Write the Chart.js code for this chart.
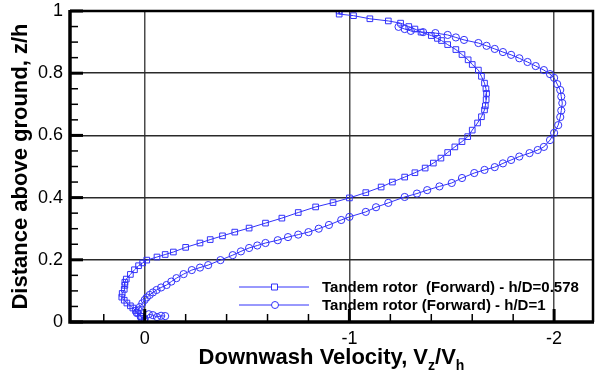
<!DOCTYPE html>
<html>
<head>
<meta charset="utf-8">
<script src="https://cdn.jsdelivr.net/npm/chart.js@4/dist/chart.umd.min.js"></script>
<style>
  html, body { margin: 0; padding: 0; background: #fff; }
  #contenedor { width: 598px; height: 375px; }
</style>
</head>
<body>
<div id="contenedor"><canvas id="miGrafica" width="598" height="375"></canvas></div>
<script>
// Tandem rotor (Forward) - h/D=0.578  (squares)
const vel1 = [-0.95, -0.95, -1.02, -1.10, -1.19, -1.25, -1.29, -1.32, -1.35, -1.40, -1.43, -1.45, -1.48, -1.52,
  -1.55, -1.58, -1.60, -1.63, -1.645, -1.66, -1.667, -1.67, -1.668, -1.664, -1.66, -1.645, -1.626, -1.60,
  -1.578, -1.55, -1.515, -1.48, -1.447, -1.41, -1.37, -1.32, -1.27, -1.21, -1.155, -1.08, -1.00, -0.92,
  -0.835, -0.75, -0.67, -0.59, -0.51, -0.44, -0.38, -0.32, -0.27, -0.20, -0.14, -0.10, -0.06, -0.01,
  0.01, 0.03, 0.05, 0.07, 0.09, 0.097, 0.097, 0.10, 0.11, 0.112, 0.10, 0.087, 0.07, 0.058, 0.045, 0.034,
  0.02, 0.015, 0.00];
const z1 = [1.00, 0.99, 0.985, 0.975, 0.968, 0.961, 0.950, 0.942, 0.932, 0.921, 0.912, 0.905, 0.892, 0.876,
  0.860, 0.843, 0.828, 0.810, 0.790, 0.768, 0.750, 0.735, 0.715, 0.695, 0.682, 0.660, 0.640, 0.617,
  0.596, 0.580, 0.563, 0.545, 0.527, 0.511, 0.495, 0.480, 0.466, 0.450, 0.434, 0.416, 0.399, 0.384,
  0.370, 0.352, 0.334, 0.318, 0.302, 0.289, 0.277, 0.265, 0.254, 0.240, 0.225, 0.217, 0.209, 0.199,
  0.190, 0.181, 0.168, 0.153, 0.138, 0.128, 0.118, 0.105, 0.092, 0.080, 0.070, 0.061, 0.052, 0.045, 0.037, 0.029,
  0.018, 0.012, 0.003];

// Tandem rotor (Forward) - h/D=1  (circles)
const vel2 = [-1.24, -1.27, -1.30, -1.36, -1.42, -1.48, -1.52, -1.56, -1.63, -1.67, -1.71, -1.75, -1.79, -1.83,
  -1.87, -1.91, -1.95, -1.98, -2.00, -2.015, -2.03, -2.035, -2.04, -2.035, -2.03, -2.02, -2.00, -1.98,
  -1.95, -1.92, -1.88, -1.83, -1.79, -1.75, -1.71, -1.66, -1.61, -1.55, -1.50, -1.44, -1.38, -1.33,
  -1.27, -1.19, -1.13, -1.08, -1.00, -0.96, -0.90, -0.85, -0.80, -0.75, -0.70, -0.65, -0.59, -0.55,
  -0.51, -0.47, -0.43, -0.37, -0.31, -0.27, -0.23, -0.19, -0.155, -0.13, -0.107, -0.08, -0.058, -0.04,
  -0.024, -0.01, 0.00, 0.012, 0.024, 0.03, 0.039, 0.02, 0.00, -0.02, -0.04, -0.06, -0.08, -0.10];
const z2 = [0.949, 0.942, 0.936, 0.932, 0.929, 0.923, 0.915, 0.907, 0.897, 0.888, 0.878, 0.868, 0.859, 0.848,
  0.836, 0.823, 0.810, 0.797, 0.785, 0.765, 0.746, 0.725, 0.704, 0.680, 0.659, 0.633, 0.608, 0.585,
  0.563, 0.553, 0.543, 0.532, 0.521, 0.510, 0.498, 0.489, 0.479, 0.463, 0.447, 0.436, 0.424, 0.413,
  0.402, 0.383, 0.369, 0.354, 0.338, 0.328, 0.312, 0.300, 0.289, 0.281, 0.273, 0.263, 0.254, 0.246,
  0.238, 0.227, 0.215, 0.199, 0.183, 0.175, 0.167, 0.154, 0.141, 0.130, 0.119, 0.111, 0.103, 0.095,
  0.087, 0.079, 0.071, 0.060, 0.048, 0.038, 0.029, 0.018, 0.010, 0.025, 0.022, 0.016, 0.020, 0.019];

const nombres = ["Tandem rotor  (Forward) - h/D=0.578", "Tandem rotor (Forward) - h/D=1"];
const xTicks = [0.2, 0, -0.2, -0.4, -0.6, -0.8, -1, -1.2, -1.4, -1.6, -1.8, -2];
const xMayores = [0, -1, -2];
const yTicks = [0, 0.05, 0.1, 0.15, 0.2, 0.25, 0.3, 0.35, 0.4, 0.45, 0.5, 0.55, 0.6, 0.65, 0.7, 0.75, 0.8, 0.85, 0.9, 0.95, 1];
const yMayores = [0, 0.2, 0.4, 0.6, 0.8, 1];

const azul = "rgb(50, 50, 250)";
const fuente = "'Liberation Sans', Arial, Helvetica, sans-serif";

function esMayor(lista, v) {
    return lista.some(m => Math.abs(m - v) < 1e-6);
}

function puntos(xs, ys) {
    return xs.map((x, i) => ({ x: x, y: ys[i] }));
}

// bordes, marcas hacia adentro, leyenda y titulos
const marcos = {
    id: "marcos",
    afterDraw(chart) {
        const ctx = chart.ctx;
        const a = chart.chartArea;
        const sx = chart.scales.x;
        const sy = chart.scales.y;
        ctx.save();
        ctx.strokeStyle = "#000";
        ctx.lineCap = "butt";

        // marcas eje y
        yTicks.forEach(v => {
            const y = sy.getPixelForValue(v);
            const mayor = esMayor(yMayores, v);
            ctx.lineWidth = mayor ? 3 : 1.5;
            ctx.beginPath();
            ctx.moveTo(a.left, y);
            ctx.lineTo(a.left + (mayor ? 13 : 8), y);
            ctx.stroke();
        });
        // marcas eje x
        xTicks.forEach(v => {
            const x = sx.getPixelForValue(v);
            const mayor = esMayor(xMayores, v);
            ctx.lineWidth = mayor ? 3 : 1.5;
            ctx.beginPath();
            ctx.moveTo(x, a.bottom);
            ctx.lineTo(x, a.bottom - (mayor ? 13 : 8));
            ctx.stroke();
        });

        // bordes
        ctx.lineWidth = 2.5;
        ctx.beginPath();
        ctx.moveTo(a.left, a.top);
        ctx.lineTo(a.right, a.top);
        ctx.lineTo(a.right, a.bottom);
        ctx.stroke();
        ctx.lineWidth = 3.5;
        ctx.beginPath();
        ctx.moveTo(a.left, a.top - 1);
        ctx.lineTo(a.left, a.bottom);
        ctx.lineTo(a.right + 1, a.bottom);
        ctx.stroke();

        // leyenda
        const filas = [287, 305];
        chart.data.datasets.forEach((ds, i) => {
            const y = filas[i];
            ctx.strokeStyle = azul;
            ctx.lineWidth = 1;
            ctx.beginPath();
            ctx.moveTo(239, y);
            ctx.lineTo(309, y);
            ctx.stroke();
            ctx.fillStyle = "#fff";
            ctx.beginPath();
            if (ds.pointStyle === "rect") {
                ctx.rect(271.5, y - 3, 6, 6);
            } else {
                ctx.arc(275, y, 3.5, 0, Math.PI * 2);
            }
            ctx.fill();
            ctx.stroke();
            ctx.fillStyle = "#000";
            ctx.font = "bold 15px " + fuente;
            ctx.textAlign = "left";
            ctx.textBaseline = "middle";
            ctx.fillText(nombres[i], 322, y + 1);
        });

        // titulo eje y
        ctx.fillStyle = "#000";
        ctx.save();
        ctx.translate(21, (a.top + a.bottom) / 2);
        ctx.rotate(-Math.PI / 2);
        ctx.font = "bold 22px " + fuente;
        ctx.textAlign = "center";
        ctx.textBaseline = "middle";
        ctx.fillText("Distance above ground, z/h", 0, 0);
        ctx.restore();

        // titulo eje x con subindices
        const partes = [
            { t: "Downwash Velocity, V", sub: false },
            { t: "z", sub: true },
            { t: "/V", sub: false },
            { t: "h", sub: true }
        ];
        const fGrande = "bold 22px " + fuente;
        const fChica = "bold 14px " + fuente;
        let ancho = 0;
        partes.forEach(p => {
            ctx.font = p.sub ? fChica : fGrande;
            ancho += ctx.measureText(p.t).width;
        });
        let x = (a.left + a.right) / 2 - ancho / 2;
        const base = 364;
        ctx.textAlign = "left";
        ctx.textBaseline = "alphabetic";
        partes.forEach(p => {
            ctx.font = p.sub ? fChica : fGrande;
            ctx.fillText(p.t, x, p.sub ? base + 6 : base);
            x += ctx.measureText(p.t).width;
        });
        ctx.restore();
    }
};

function crearGrafica() {
    const ctx = document.getElementById("miGrafica").getContext("2d");
    new Chart(ctx, {
        type: "scatter",
        data: {
            datasets: [
                {
                    label: nombres[0],
                    data: puntos(vel1, z1),
                    showLine: true,
                    borderColor: azul,
                    borderWidth: 1,
                    pointStyle: "rect",
                    pointRadius: 4,
                    pointBorderWidth: 1,
                    pointBorderColor: azul,
                    pointBackgroundColor: "rgba(255,255,255,0)"
                },
                {
                    label: nombres[1],
                    data: puntos(vel2, z2),
                    showLine: true,
                    borderColor: azul,
                    borderWidth: 1,
                    pointStyle: "circle",
                    pointRadius: 3.6,
                    pointBorderWidth: 1,
                    pointBorderColor: azul,
                    pointBackgroundColor: "rgba(255,255,255,0)"
                }
            ]
        },
        options: {
            responsive: false,
            animation: false,
            events: [],
            layout: { padding: { top: 11, right: 2, left: 0, bottom: 0 } },
            plugins: {
                legend: { display: false },
                tooltip: { enabled: false }
            },
            scales: {
                x: {
                    type: "linear",
                    reverse: true,
                    min: -2.19,
                    max: 0.365,
                    afterBuildTicks: s => { s.ticks = xTicks.map(v => ({ value: v })); },
                    afterFit: s => { s.height = 53; s.paddingLeft = 0; s.paddingRight = 0; },
                    border: { display: false },
                    grid: {
                        drawTicks: false,
                        lineWidth: 1.5,
                        color: c => esMayor(xMayores, c.tick.value) ? "#4a4a4a" : "rgba(0,0,0,0)"
                    },
                    ticks: {
                        padding: 6,
                        maxRotation: 0,
                        autoSkip: false,
                        color: "#000",
                        font: { family: fuente, size: 18 },
                        callback: v => esMayor(xMayores, v) ? String(Math.round(v)) : ""
                    }
                },
                y: {
                    type: "linear",
                    min: 0,
                    max: 1,
                    afterBuildTicks: s => { s.ticks = yTicks.map(v => ({ value: v })); },
                    afterFit: s => { s.width = 70; s.paddingTop = 0; s.paddingBottom = 0; },
                    border: { display: false },
                    grid: {
                        drawTicks: false,
                        lineWidth: 1.5,
                        color: c => esMayor(yMayores, c.tick.value) ? "#2a2a2a" : "rgba(0,0,0,0)"
                    },
                    ticks: {
                        padding: 7,
                        autoSkip: false,
                        color: "#000",
                        font: { family: fuente, size: 18 },
                        callback: v => esMayor(yMayores, v) ? String(Math.round(v * 10) / 10) : ""
                    }
                }
            }
        },
        plugins: [marcos]
    });
}

document.addEventListener("DOMContentLoaded", () => {
    crearGrafica();
});
</script>
</body>
</html>
